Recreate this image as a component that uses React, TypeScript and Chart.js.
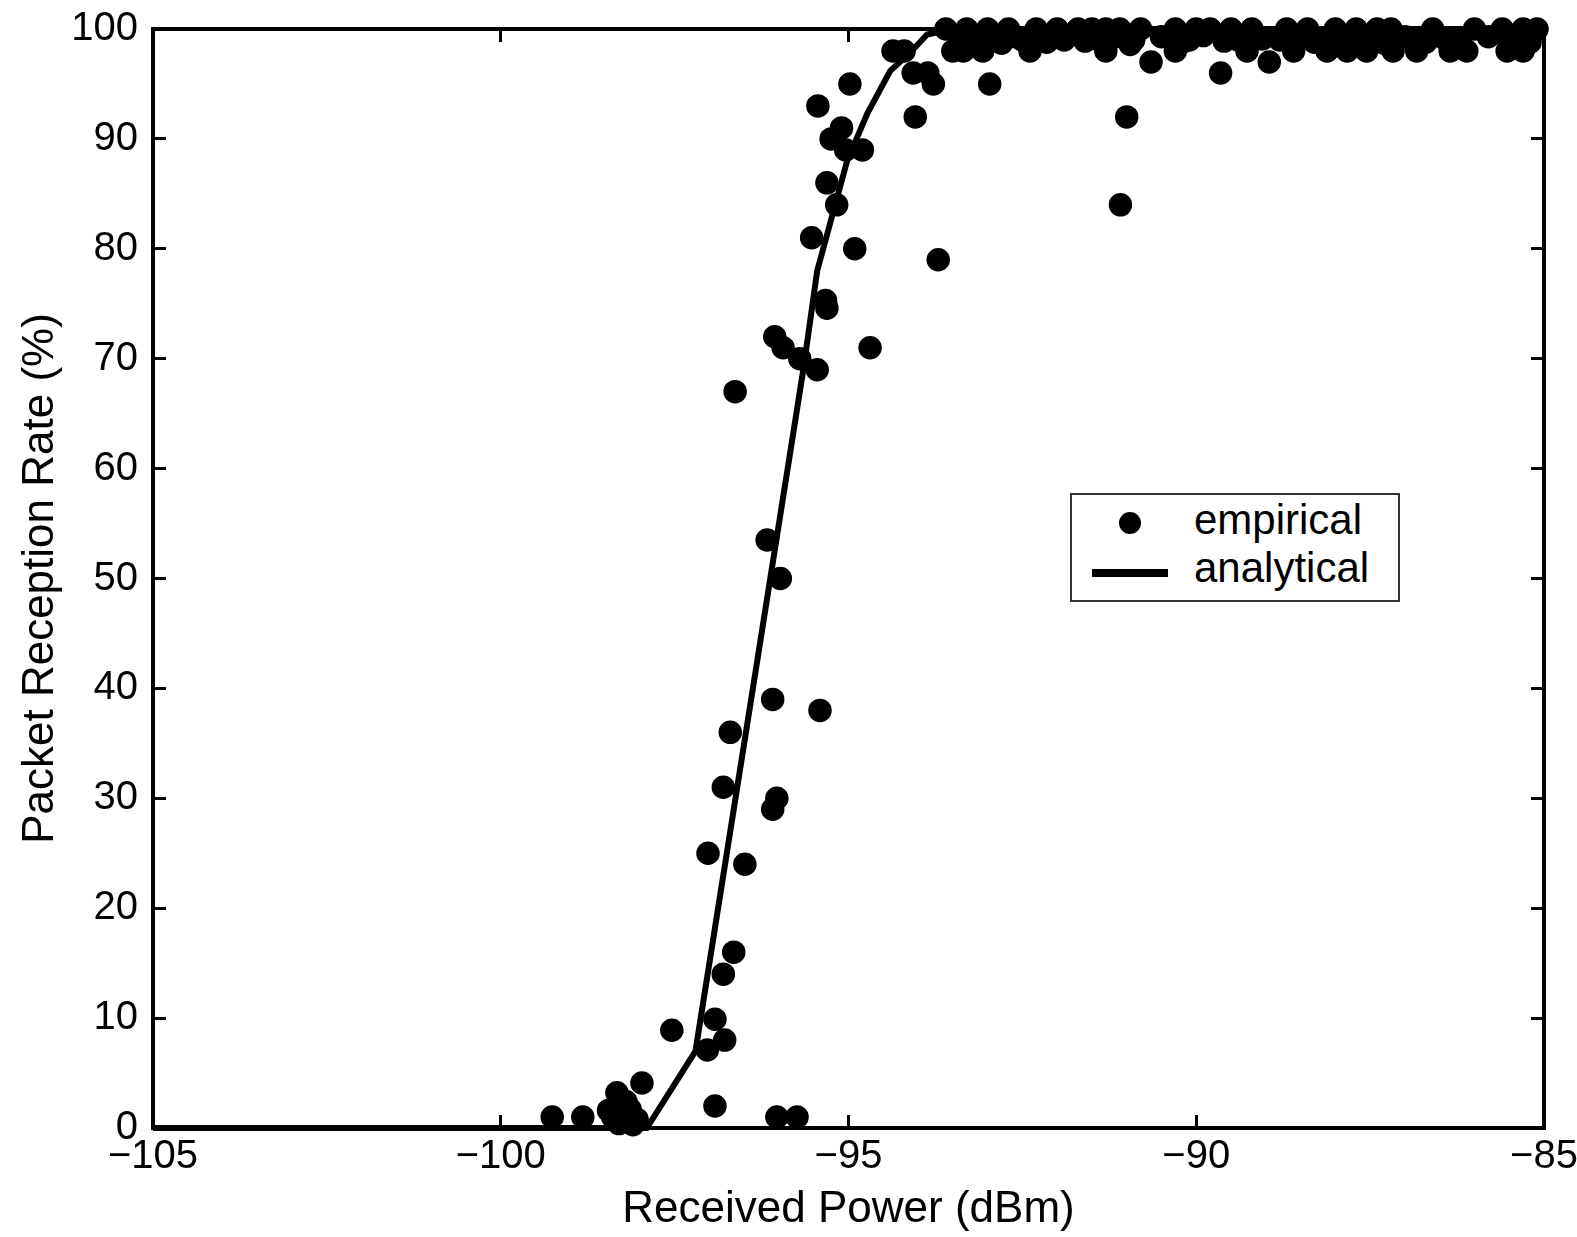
import React, { useEffect, useRef } from "react";
import { Chart, registerables } from "chart.js";

Chart.register(...registerables);

// ---- data ----
const xTickValues = [-105, -100, -95, -90, -85];
const yTickValues = [0, 10, 20, 30, 40, 50, 60, 70, 80, 90, 100];

const empiricalX = [
  -99.26, -98.82, -98.39, -98.14, -98.04, -98.33, -97.97, -97.54, -97.03, -96.92,
  -96.92, -96.78, -96.8, -96.65, -96.03, -95.74,
  -98.3, -98.2, -98.1, -98.45,
  -97.02, -96.49, -96.8, -96.7, -96.03, -96.09, -96.09, -95.41,
  -96.17, -95.98,
  -96.63, -96.06, -95.94, -95.7, -95.45, -94.69, -95.31, -95.33,
  -95.53, -94.91, -93.71, -95.17, -95.31,
  -95.25, -95.1, -95.04, -94.8, -95.44, -94.04, -94.98,
  -94.36, -94.2, -94.07, -93.86, -93.78, -92.97, -93.5,
  -91.09, -91.0, -90.65, -89.65, -88.95,
  -93.6, -93.3, -93.0, -92.7, -92.3, -92.0, -91.7, -91.5, -91.3, -91.1, -90.8, -90.3, -90.0,
  -89.8, -89.5, -89.2, -88.7, -88.4, -88.0, -87.7, -87.4, -87.2, -86.6, -86.0, -85.6, -85.3, -85.1,
  -93.4, -92.9, -92.5, -91.9, -91.4, -90.9, -90.1, -89.4, -88.8, -88.2, -87.6, -86.9, -86.3, -85.5,
  -93.35, -93.07, -92.39, -91.3, -90.3, -89.27, -88.6, -88.12, -87.83, -87.55, -87.17, -86.83, -86.35, -86.11, -85.53, -85.3,
  -93.2, -92.8, -92.6, -92.15, -91.85, -91.6, -91.2, -90.95, -90.5, -90.2, -89.9, -89.6, -89.05, -88.5, -88.3, -87.9, -87.3, -87.0, -86.7, -86.45, -86.2, -85.8, -85.2,
];
const empiricalY = [
  1, 1, 1, 1.7, 0.8, 3.2, 4.1, 8.9, 7.1, 9.9,
  2, 8, 14, 16, 1, 1,
  0.4, 2.4, 0.3, 1.6,
  25, 24, 31, 36, 30, 29, 39, 38,
  53.5, 50,
  67, 72, 71, 70, 69, 71, 74.6, 75.3,
  81, 80, 79, 84, 86,
  90, 91, 89, 89, 93, 92, 95,
  98, 98, 96, 96, 95, 95, 98,
  84, 92, 97, 96, 97,
  100, 100, 100, 100, 100, 100, 100, 100, 100, 100, 100, 100, 100,
  100, 100, 100, 100, 100, 100, 100, 100, 100, 100, 100, 100, 100, 100,
  99, 99, 99, 99, 99, 99, 99, 99, 99, 99, 99, 99, 99, 99,
  98, 98, 98, 98, 98, 98, 98, 98, 98, 98, 98, 98, 98, 98, 98, 98,
  99.2, 98.7, 99.3, 98.8, 99.4, 98.9, 99.2, 98.6, 99.3, 98.8, 99.4, 98.9, 99.1, 99.3, 98.8, 99.2, 98.7, 99.3, 98.8, 99.2, 98.7, 99.3, 98.8,
];

const analyticalX = [-105, -97.9, -97.2, -96.3, -95.65, -95.45, -95.02, -94.73, -94.4, -94.12, -93.87, -93.5, -85];
const analyticalY = [0, 0, 7, 43, 69, 78, 88, 92.3, 96.2, 97.8, 99.5, 100, 100];

const FONT = '"Liberation Sans", Arial, Helvetica, sans-serif';

export default function App() {
  const canvasRef = useRef<HTMLCanvasElement | null>(null);

  useEffect(() => {
    const canvas = canvasRef.current;
    if (!canvas) return;
    const empirical = empiricalX.map((x, i) => ({ x, y: empiricalY[i] }));
    const analytical = analyticalX.map((x, i) => ({ x, y: analyticalY[i] }));

    const tickFont = { family: FONT, size: 40 };
    const titleFont = { family: FONT, size: 44 };
    const gridOpts = {
      display: true,
      drawOnChartArea: false,
      drawTicks: true,
      tickLength: -13,
      tickWidth: 3,
      color: "#000",
      tickColor: "#000",
    };
    const borderOpts = { display: true, color: "#000", width: 4 };
    const minus = (v: any) => String(v).replace("-", "\u2212");

    const chart = new Chart(canvas, {
      type: "scatter",
      data: {
        datasets: [
          {
            label: "empirical",
            data: empirical,
            pointRadius: 11,
            pointBorderWidth: 1.5,
            pointBackgroundColor: "#000",
            pointBorderColor: "#000",
            showLine: false,
            clip: false,
          } as any,
          {
            label: "analytical",
            data: analytical,
            showLine: true,
            borderColor: "#000",
            borderWidth: 6,
            pointRadius: 0,
            tension: 0,
            clip: false,
          } as any,
        ],
      },
      options: {
        responsive: false,
        animation: false,
        devicePixelRatio: 1,
        layout: { padding: { left: 0, top: 29, right: 33, bottom: 0 } },
        plugins: {
          legend: { display: false },
          tooltip: { enabled: false },
        },
        scales: {
          x: {
            type: "linear",
            position: "bottom",
            min: -105,
            max: -85,
            afterBuildTicks: (s: any) => {
              s.ticks = xTickValues.map((v) => ({ value: v }));
            },
            ticks: {
              font: tickFont,
              color: "#000",
              padding: 18,
              maxRotation: 0,
              autoSkip: false,
              callback: minus,
            },
            grid: gridOpts,
            border: borderOpts,
            title: {
              display: true,
              text: "Received Power (dBm)",
              font: titleFont,
              color: "#000",
              padding: { top: 0, bottom: 1 },
            },
            afterFit: (s: any) => {
              s.height = 109;
              s.paddingLeft = 0;
              s.paddingRight = 0;
            },
          },
          x2: {
            type: "linear",
            position: "top",
            min: -105,
            max: -85,
            afterBuildTicks: (s: any) => {
              s.ticks = xTickValues.map((v) => ({ value: v }));
            },
            ticks: { display: false },
            grid: gridOpts,
            border: borderOpts,
            afterFit: (s: any) => {
              s.height = 0;
              s.paddingLeft = 0;
              s.paddingRight = 0;
            },
          },
          y: {
            type: "linear",
            position: "left",
            min: 0,
            max: 100,
            afterBuildTicks: (s: any) => {
              s.ticks = yTickValues.map((v) => ({ value: v }));
            },
            ticks: {
              font: tickFont,
              color: "#000",
              padding: 28,
              autoSkip: false,
            },
            grid: gridOpts,
            border: borderOpts,
            title: {
              display: true,
              text: "Packet Reception Rate (%)",
              font: titleFont,
              color: "#000",
              padding: { top: 14, bottom: 0 },
            },
            afterFit: (s: any) => {
              s.width = 153;
              s.paddingTop = 0;
              s.paddingBottom = 0;
            },
          },
          y2: {
            type: "linear",
            position: "right",
            min: 0,
            max: 100,
            afterBuildTicks: (s: any) => {
              s.ticks = yTickValues.map((v) => ({ value: v }));
            },
            ticks: { display: false },
            grid: gridOpts,
            border: borderOpts,
            afterFit: (s: any) => {
              s.width = 0;
              s.paddingTop = 0;
              s.paddingBottom = 0;
            },
          },
        },
      } as any,
    });
    return () => chart.destroy();
  }, []);

  const legendText: React.CSSProperties = {
    position: "absolute",
    left: 122,
    fontFamily: FONT,
    fontSize: 42,
    lineHeight: "42px",
    color: "#000",
    whiteSpace: "nowrap",
  };

  return (
    <div style={{ position: "fixed", left: 0, top: 0, width: 1577, height: 1237, background: "#fff" }}>
      <canvas ref={canvasRef} width={1577} height={1237} style={{ display: "block", width: 1577, height: 1237 }} />
      <div
        style={{
          position: "absolute",
          left: 1070,
          top: 493,
          width: 326,
          height: 105,
          border: "2px solid #333",
          background: "#fff",
          boxSizing: "content-box",
        }}
      >
        <div
          style={{
            position: "absolute",
            left: 60 - 2 - 11,
            top: 30 - 2 - 11,
            width: 22,
            height: 22,
            borderRadius: "50%",
            background: "#000",
          }}
        />
        <div
          style={{
            position: "absolute",
            left: 22 - 2,
            top: 80 - 2 - 4,
            width: 76,
            height: 8,
            background: "#000",
          }}
        />
        <span style={{ ...legendText, top: 4 }}>empirical</span>
        <span style={{ ...legendText, top: 52 }}>analytical</span>
      </div>
    </div>
  );
}
